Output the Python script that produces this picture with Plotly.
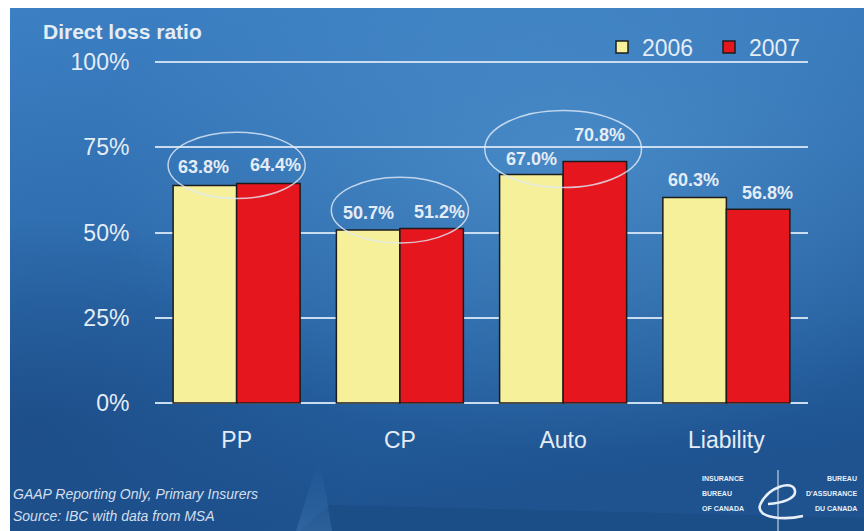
import base64
import plotly.graph_objects as go

categories = ["PP", "CP", "Auto", "Liability"]
years = ["2006", "2007"]
ratio_2006 = [63.8, 50.7, 67.0, 60.3]
ratio_2007 = [64.4, 51.2, 70.8, 56.8]
y_ticks = [0, 25, 50, 75, 100]
y_tick_labels = ["0%", "25%", "50%", "75%", "100%"]
circled = ["PP", "CP", "Auto"]
notes = ["GAAP Reporting Only, Primary Insurers", "Source: IBC with data from MSA"]

W, H = 864, 531
FONT = "Liberation Sans, Arial, sans-serif"
TXT = "#e4ecf6"
colors = {"2006": "#f6f09a", "2007": "#e5161d"}

# label nudges (px) relative to the top centre of each bar
label_dx = {"2006": [-1, 0, 0, -1], "2007": [7, 8, 5, 9]}
label_dy = {"2006": [18, 17, 16, 17], "2007": [18, 16, 27, 16]}
ellipse_half = {"PP": 0.42, "CP": 0.42, "Auto": 0.48}

# plot area in px: 0% at y=403, 100% at y=62
y_lo, y_hi = -0.6, 101
px_per = (403 - 62) / 100
dom_bot = (H - (403 - y_lo * px_per)) / H
dom_top = (H - (403 - y_hi * px_per)) / H

# slide background (gradient + IBC swirl), drawn as an svg behind the chart
svg = f"""<svg xmlns="http://www.w3.org/2000/svg" width="{W}" height="{H}" viewBox="0 0 {W} {H}" preserveAspectRatio="none">
<defs>
<linearGradient id="g" x1="0" y1="0" x2="0.2" y2="1">
<stop offset="0" stop-color="#3c80c3"/><stop offset="0.4" stop-color="#306fb1"/>
<stop offset="0.75" stop-color="#255f9f"/><stop offset="1" stop-color="#1e5390"/></linearGradient>
<radialGradient id="r" cx="0.65" cy="0.3" r="0.55">
<stop offset="0" stop-color="#5ea2da" stop-opacity="0.5"/><stop offset="1" stop-color="#5ea2da" stop-opacity="0"/></radialGradient>
<radialGradient id="d" cx="0.02" cy="0.8" r="0.4">
<stop offset="0" stop-color="#163f75" stop-opacity="0.5"/><stop offset="1" stop-color="#163f75" stop-opacity="0"/></radialGradient>
<linearGradient id="s" x1="0" y1="0" x2="0" y2="1">
<stop offset="0" stop-color="#5d9bd2" stop-opacity="0"/><stop offset="1" stop-color="#5d9bd2" stop-opacity="0.25"/></linearGradient>
</defs>
<rect width="{W}" height="{H}" fill="#ffffff"/>
<rect x="10" y="8" width="{W-10}" height="{H-8}" fill="url(#g)"/>
<rect x="10" y="8" width="{W-10}" height="{H-8}" fill="url(#r)"/>
<rect x="10" y="8" width="{W-10}" height="{H-8}" fill="url(#d)"/>
<polygon points="330,505 864,518 864,531 300,531" fill="#173f73" fill-opacity="0.3"/>
<polygon points="317,464 321,464 332,531 296,531" fill="url(#s)"/>
<line x1="778" y1="470" x2="778" y2="531" stroke="#dfe9f5" stroke-width="1"/>
<path d="M 760 505 C 768 487, 793 479, 795 491 C 796 499, 782 503, 768 504" fill="none" stroke="#e8eff8" stroke-width="2.6"/>
<path d="M 760 505 C 756 519, 786 520, 803 516" fill="none" stroke="#e8eff8" stroke-width="2.6"/>
</svg>"""
bg_uri = "data:image/svg+xml;base64," + base64.b64encode(svg.encode()).decode()

fig = go.Figure()
for yr, vals in zip(years, [ratio_2006, ratio_2007]):
    fig.add_trace(go.Bar(x=categories, y=vals, name=yr, marker_color=colors[yr],
                         marker_line=dict(color="#1c1c1c", width=1.5), hoverinfo="x+y"))

# value labels
bar_w = (1 - 0.222) / 2
for k, (yr, vals) in enumerate(zip(years, [ratio_2006, ratio_2007])):
    off = -bar_w / 2 if k == 0 else bar_w / 2
    for i, v in enumerate(vals):
        fig.add_annotation(x=i + off, y=v, xref="x", yref="y", text=f"<b>{v:.1f}%</b>",
                           showarrow=False, yanchor="middle", xshift=label_dx[yr][i],
                           yshift=label_dy[yr][i], font=dict(family=FONT, size=18, color=TXT))

# highlight ellipses around circled categories
for c in circled:
    i = categories.index(c)
    lo = min(ratio_2006[i], ratio_2007[i])
    hi = max(ratio_2006[i], ratio_2007[i])
    hw = ellipse_half[c]
    fig.add_shape(type="circle", xref="x", yref="y", x0=i - hw, x1=i + hw,
                  y0=lo - 3.8, y1=hi + 15, line=dict(color="rgba(225,235,248,0.8)", width=1.5))

fig.add_annotation(text="<b>Direct loss ratio</b>", xref="paper", yref="paper", x=41 / W, y=1 - 32 / H,
                   xanchor="left", yanchor="middle", showarrow=False,
                   font=dict(family=FONT, size=21, color=TXT))
for j, n in enumerate(notes):
    fig.add_annotation(text=f"<i>{n}</i>", xref="paper", yref="paper", x=11 / W, y=1 - (494 + 22 * j) / H,
                       xanchor="left", yanchor="middle", showarrow=False,
                       font=dict(family=FONT, size=14, color="#d3dfee"))

logo_left = ["INSURANCE", "BUREAU", "OF CANADA"]
logo_right = ["BUREAU", "D'ASSURANCE", "DU CANADA"]
for j in range(3):
    yy = 1 - (478 + 15 * j) / H
    fig.add_annotation(text=f"<b>{logo_left[j]}</b>", xref="paper", yref="paper", x=700 / W, y=yy,
                       xanchor="left", yanchor="middle", showarrow=False,
                       font=dict(family=FONT, size=7, color="#e8eff8"))
    fig.add_annotation(text=f"<b>{logo_right[j]}</b>", xref="paper", yref="paper", x=859 / W, y=yy,
                       xanchor="right", yanchor="middle", showarrow=False,
                       font=dict(family=FONT, size=7, color="#e8eff8"))

fig.update_layout(
    width=W, height=H, autosize=False,
    margin=dict(l=0, r=0, t=0, b=0, pad=0, autoexpand=False),
    paper_bgcolor="#ffffff", plot_bgcolor="rgba(0,0,0,0)",
    images=[dict(source=bg_uri, xref="paper", yref="paper", x=0, y=1, sizex=1, sizey=1,
                 xanchor="left", yanchor="top", sizing="stretch", layer="below")],
    barmode="group", bargap=0.222, bargroupgap=0,
    font=dict(family=FONT, color=TXT),
    showlegend=True,
    legend=dict(orientation="h", x=816 / W, xanchor="right", y=1 - 47 / H, yanchor="middle",
                bgcolor="rgba(0,0,0,0)", font=dict(family=FONT, size=23, color=TXT),
                entrywidth=62, entrywidthmode="pixels",
                itemclick=False, itemdoubleclick=False),
    xaxis=dict(domain=[155 / W, 808 / W], showgrid=False, showline=False, zeroline=False,
               ticks="outside", ticklen=14, tickcolor="rgba(0,0,0,0)",
               tickfont=dict(family=FONT, size=23, color=TXT), fixedrange=True),
    yaxis=dict(domain=[dom_bot, dom_top], range=[y_lo, y_hi], tickvals=y_ticks,
               ticktext=y_tick_labels, showgrid=True, gridcolor="#c9dcf0", gridwidth=2,
               zeroline=False, showline=False, ticks="outside", ticklen=20,
               tickcolor="rgba(0,0,0,0)", tickfont=dict(family=FONT, size=23, color=TXT),
               fixedrange=True),
)

fig.write_html("out.html", config={"displayModeBar": False},
               post_script="document.body.style.margin='0px';")
